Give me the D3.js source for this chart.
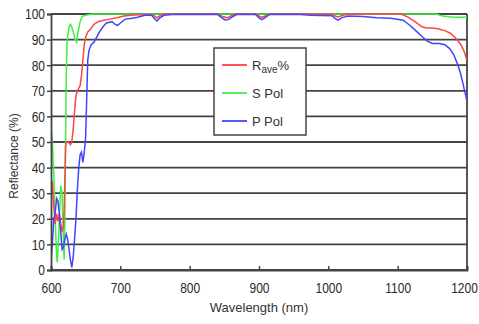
<!DOCTYPE html>
<html><head><meta charset="utf-8">
<script src="https://cdn.jsdelivr.net/npm/d3@7"></script>
<style>
body{margin:0;background:#fff;}
svg{display:block;}
.tick text{font-family:"Liberation Sans",Arial,sans-serif;font-size:15px;fill:#2a2a2a;}
</style></head>
<body><svg id="chart" width="479" height="324"></svg>
<script>
// ---- data ----
const xTicks = [600,700,800,900,1000,1100,1200];
const yTicks = [0,10,20,30,40,50,60,70,80,90,100];

const sWl  = [600,602,604,606,608,609,611,612,614,616,618,619,620,621,622,623,624,626,628,630,632,635,637,639,642,645,650,660,1155,1165,1180,1200];
const sVal = [55,50,38,20,6,3,12,20,33,30,10,4,20,50,75,88,91,95,96,95,93,90,89,93,97,99,99.5,100,100,99.2,98.7,98.7];

const rWl  = [600,602,604,606,608,610,612,614,616,618,619,620,621,622,625,628,630,632,634,636,638,640,642,644,646,648,650,653,657,662,668,675,685,695,705,720,740,748,753,758,765,840,848,854,860,866,895,900,904,910,916,1005,1010,1014,1020,1028,1105,1115,1125,1135,1142,1150,1158,1168,1176,1184,1190,1195,1200];
const rVal = [33,34,25,18,22,19,22,18,15,17,24,35,48,50,50,49,50,55,62,68,70,71,72,76,82,88,91,93,94,96,97,97.5,98,98.5,99.2,99.6,99.8,99.5,98.5,99.5,100,100,99,98.5,99.3,100,100,99.2,98.7,99.3,100,100,99.2,98.8,99.4,100,100,98.8,97,95,94.5,94.5,94.2,93.5,92.5,90.5,88.5,86,82];

const pWl  = [600,602,604,606,608,610,612,614,616,618,620,622,624,626,628,630,632,634,636,638,640,642,644,646,648,650,651,652,653,655,658,662,666,670,675,680,688,692,696,700,707,715,725,735,745,750,753,757,763,775,840,845,851,856,862,868,895,900,904,909,915,960,975,1005,1010,1014,1020,1028,1050,1070,1090,1108,1118,1128,1136,1142,1150,1160,1168,1175,1181,1187,1191,1194,1197,1200];
const pVal = [4,10,20,22,28,27,22,15,8,9,12,14,12,8,4,1,5,12,20,31,40,45,46,42,46,52,62,72,82,86,88,89,91,93,95,96.5,97,96,95.5,96.5,98,98.2,98.7,99.5,99.5,98,97.3,98.5,99.5,99.8,99.8,98.8,97.7,97.8,99,99.8,99.8,98.5,97.8,98.6,99.8,99.8,99.5,99.3,98.2,97.6,98.6,99.2,99,98.5,98.3,97.6,95.5,93,91,89.5,88.5,88.5,88,86.5,84,80,76.5,73,69.5,66];

const seriesNames = ["Rave%","S Pol","P Pol"];
const colors = {s:"#44ee44", r:"#ff4444", p:"#4444ff"};

// ---- chart ----
const svg = d3.select("#chart");
const x = d3.scaleLinear().domain([600,1200]).range([51,467]);
const y = d3.scaleLinear().domain([0,100]).range([270,14]);
const SX = 0.8;

// grid
svg.append("g").selectAll("line").data(yTicks).join("line")
  .attr("x1", x(600)).attr("x2", x(1200))
  .attr("y1", d=>y(d)).attr("y2", d=>y(d))
  .attr("stroke","#444").attr("stroke-width",1.8);

// right border
svg.append("line").attr("x1",x(1200)).attr("x2",x(1200)).attr("y1",y(100)).attr("y2",y(0))
  .attr("stroke","#444").attr("stroke-width",1.8);

// clip
svg.append("clipPath").attr("id","clip").append("rect")
  .attr("x",x(600)).attr("y",y(100)-2).attr("width",x(1200)-x(600)).attr("height",y(0)-y(100)+2);

const line = d3.line().x(d=>x(d[0])).y(d=>y(d[1])).curve(d3.curveLinear);
const g = svg.append("g").attr("clip-path","url(#clip)");
g.append("path").datum(d3.zip(sWl,sVal)).attr("d",line).attr("fill","none").attr("stroke",colors.s).attr("stroke-width",1.5);
g.append("path").datum(d3.zip(rWl,rVal)).attr("d",line).attr("fill","none").attr("stroke",colors.r).attr("stroke-width",1.5);
g.append("path").datum(d3.zip(pWl,pVal)).attr("d",line).attr("fill","none").attr("stroke",colors.p).attr("stroke-width",1.5);

// axes
const yAxis = svg.append("g").attr("transform",`translate(${x(600)},0)`)
  .call(d3.axisLeft(y).tickValues(yTicks).tickSize(4).tickPadding(2));
yAxis.select(".domain").attr("stroke","#444").attr("stroke-width",1.8);
yAxis.selectAll(".tick line").attr("stroke","#444").attr("stroke-width",1.5);
yAxis.selectAll(".tick text").attr("x",-6/SX).attr("transform",`scale(${SX},1)`);

const xAxis = svg.append("g").attr("transform",`translate(0,${y(0)})`)
  .call(d3.axisBottom(x).tickValues(xTicks).tickSize(-4).tickPadding(12).tickFormat(d3.format("d")));
xAxis.select(".domain").attr("stroke","#444").attr("stroke-width",1.8);
xAxis.selectAll(".tick line").attr("stroke","#444").attr("stroke-width",1.5);
xAxis.selectAll(".tick text").attr("transform",`scale(${SX},1)`)
  .attr("x", d => d === 1200 ? -3/SX : 0);

// titles
svg.append("text").attr("x",259).attr("y",312).attr("text-anchor","middle")
  .attr("font-family","Liberation Sans, Arial, sans-serif").attr("font-size",13).attr("fill","#333")
  .text("Wavelength (nm)");
svg.append("text").attr("transform","translate(18,156) rotate(-90)").attr("text-anchor","middle")
  .attr("font-family","Liberation Sans, Arial, sans-serif").attr("font-size",12).attr("fill","#333")
  .text("Reflectance (%)");

// legend
const lg = svg.append("g");
lg.append("rect").attr("x",214).attr("y",48).attr("width",92).attr("height",87)
  .attr("fill","#fff").attr("stroke","#444").attr("stroke-width",1.5);
const items = [{k:"r",y:65},{k:"s",y:93},{k:"p",y:121}];
items.forEach((it,i)=>{
  lg.append("line").attr("x1",222).attr("x2",247).attr("y1",it.y).attr("y2",it.y)
    .attr("stroke",colors[it.k]).attr("stroke-width",1.8);
  const t = lg.append("text").attr("x",252).attr("y",it.y+5)
    .attr("font-family","Liberation Sans, Arial, sans-serif").attr("font-size",13).attr("fill","#333");
  if(i===0){
    t.append("tspan").text("R");
    t.append("tspan").attr("font-size",10).attr("dy",3).text("ave");
    t.append("tspan").attr("dy",-3).text("%");
  } else {
    t.text(seriesNames[i]);
  }
});
</script>
</body></html>
